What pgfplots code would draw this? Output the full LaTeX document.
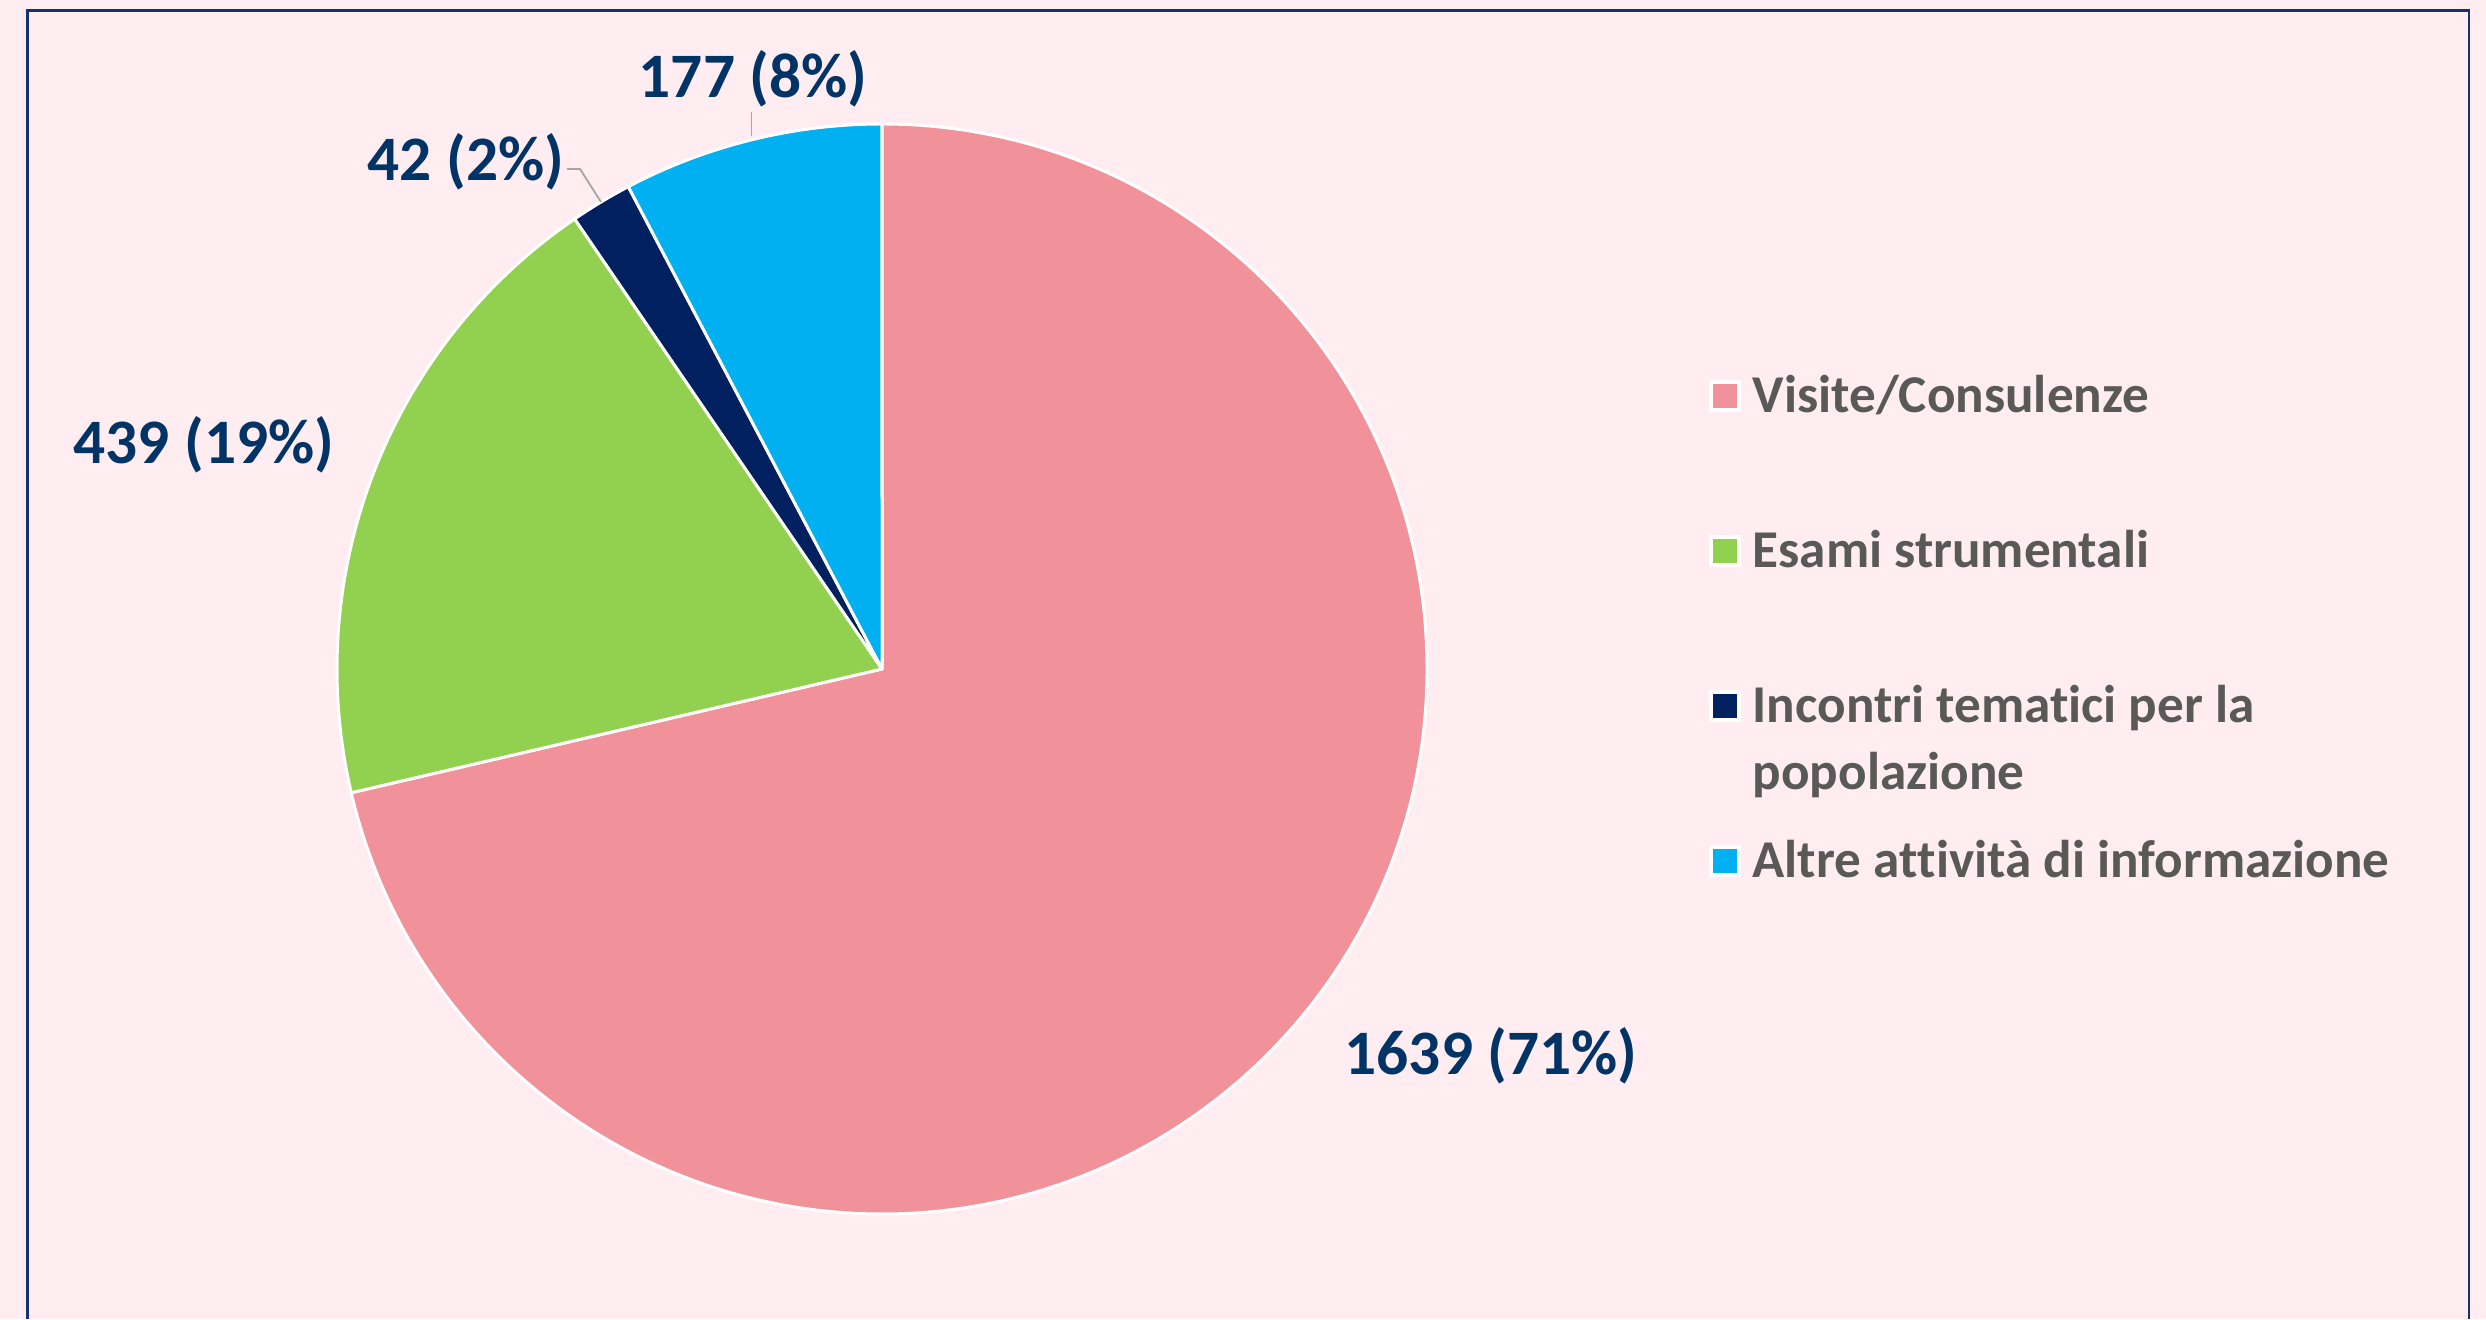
\documentclass[border=0pt]{standalone}
\usepackage{fontspec}
\setmainfont{Carlito}[Ligatures={NoCommon,NoContextual}]
\usepackage{pgfplots}
\usepackage{pgfplotstable}
\pgfplotsset{compat=1.18}
\definecolor{bgpink}{RGB}{255,237,242}
\definecolor{framenavy}{RGB}{22,48,112}
\definecolor{cVisite}{RGB}{241,145,153}
\definecolor{cEsami}{RGB}{146,208,80}
\definecolor{cIncontri}{RGB}{0,32,96}
\definecolor{cAltre}{RGB}{0,176,240}
\definecolor{labnavy}{RGB}{0,51,102}
\definecolor{leggrey}{RGB}{89,89,89}
\definecolor{leadgrey}{RGB}{166,166,166}

\pgfplotstableread{
name value
Visite 1639
Esami 439
Incontri 42
Altre 177
}\piedata

\tikzset{
  dl/.style={inner sep=0pt, text=labnavy, font=\fontsize{19}{22}\selectfont\bfseries},
  lt/.style={inner sep=0pt, anchor=base west, text=leggrey, font=\fontsize{15.95}{19}\selectfont\bfseries},
}
\def\rad{163.5pt}

\begin{document}
\begin{tikzpicture}
\pgfplotstablegetelem{0}{value}\of\piedata\edef\va{\pgfplotsretval}%
\pgfplotstablegetelem{1}{value}\of\piedata\edef\vb{\pgfplotsretval}%
\pgfplotstablegetelem{2}{value}\of\piedata\edef\vc{\pgfplotsretval}%
\pgfplotstablegetelem{3}{value}\of\piedata\edef\vd{\pgfplotsretval}%
\pgfmathsetmacro\tot{\va+\vb+\vc+\vd}%
\pgfmathsetmacro\aA{90}%
\pgfmathsetmacro\aB{\aA-\va/\tot*360}%
\pgfmathsetmacro\aC{\aB-\vb/\tot*360}%
\pgfmathsetmacro\aD{\aC-\vc/\tot*360}%
\pgfmathsetmacro\aE{\aD-\vd/\tot*360}%
\begin{axis}[
  scale only axis, width=745.8pt, height=395.7pt,
  xmin=0, xmax=2486, ymin=0, ymax=1319,
  hide axis, clip=true,
]
% background and frame
\fill[bgpink] (axis cs:0,0) rectangle (axis cs:2486,1319);
\draw[framenavy, line width=0.75pt] (axis cs:27.5,0) -- (axis cs:27.5,1308.5) -- (axis cs:2469,1308.5) -- (axis cs:2469,0);
% pie sectors
\filldraw[fill=cVisite, draw=white, line width=0.9pt, line join=round] (axis cs:882,650) -- ++(\aA:\rad) arc[start angle=\aA, end angle=\aB, radius=\rad] -- cycle;
\filldraw[fill=cEsami, draw=white, line width=0.9pt, line join=round] (axis cs:882,650) -- ++(\aB:\rad) arc[start angle=\aB, end angle=\aC, radius=\rad] -- cycle;
\filldraw[fill=cIncontri, draw=white, line width=0.9pt, line join=round] (axis cs:882,650) -- ++(\aC:\rad) arc[start angle=\aC, end angle=\aD, radius=\rad] -- cycle;
\filldraw[fill=cAltre, draw=white, line width=0.9pt, line join=round] (axis cs:882,650) -- ++(\aD:\rad) arc[start angle=\aD, end angle=\aE, radius=\rad] -- cycle;
% leader lines
\draw[leadgrey, line width=0.55pt] (axis cs:751.5,1183) -- (axis cs:751.5,1207);
\draw[leadgrey, line width=0.55pt] (axis cs:567,1150) -- (axis cs:580,1150) -- (axis cs:601,1117);
% data labels
\node[dl] at (axis cs:1491,263) {1639 (71\%)};
\node[dl] at (axis cs:204,874) {439 (19\%)};
\node[dl] at (axis cs:466,1157) {42 (2\%)};
\node[dl] at (axis cs:753,1240) {177 (8\%)};
% legend
\filldraw[fill=cVisite, draw=white, line width=1.2pt] (axis cs:1710.5,909) rectangle (axis cs:1738.5,937);
\filldraw[fill=cEsami, draw=white, line width=1.2pt] (axis cs:1710.5,754) rectangle (axis cs:1738.5,782);
\filldraw[fill=cIncontri, draw=white, line width=1.2pt] (axis cs:1710.5,599) rectangle (axis cs:1738.5,627);
\filldraw[fill=cAltre, draw=white, line width=1.2pt] (axis cs:1710.5,444) rectangle (axis cs:1738.5,472);
\node[lt] at (axis cs:1752,906) {Visite/Consulenze};
\node[lt] at (axis cs:1752,751) {Esami strumentali};
\node[lt] at (axis cs:1752,596) {Incontri temat\kern0pt ici per la};
\node[lt] at (axis cs:1752,529) {popolazione};
\node[lt] at (axis cs:1752,441) {Altre at\kern0pt t\kern0pt ività di informazione};
\end{axis}
\pgfresetboundingbox
\path[use as bounding box] (current axis.south west) rectangle (current axis.north east);
\end{tikzpicture}
\end{document}
